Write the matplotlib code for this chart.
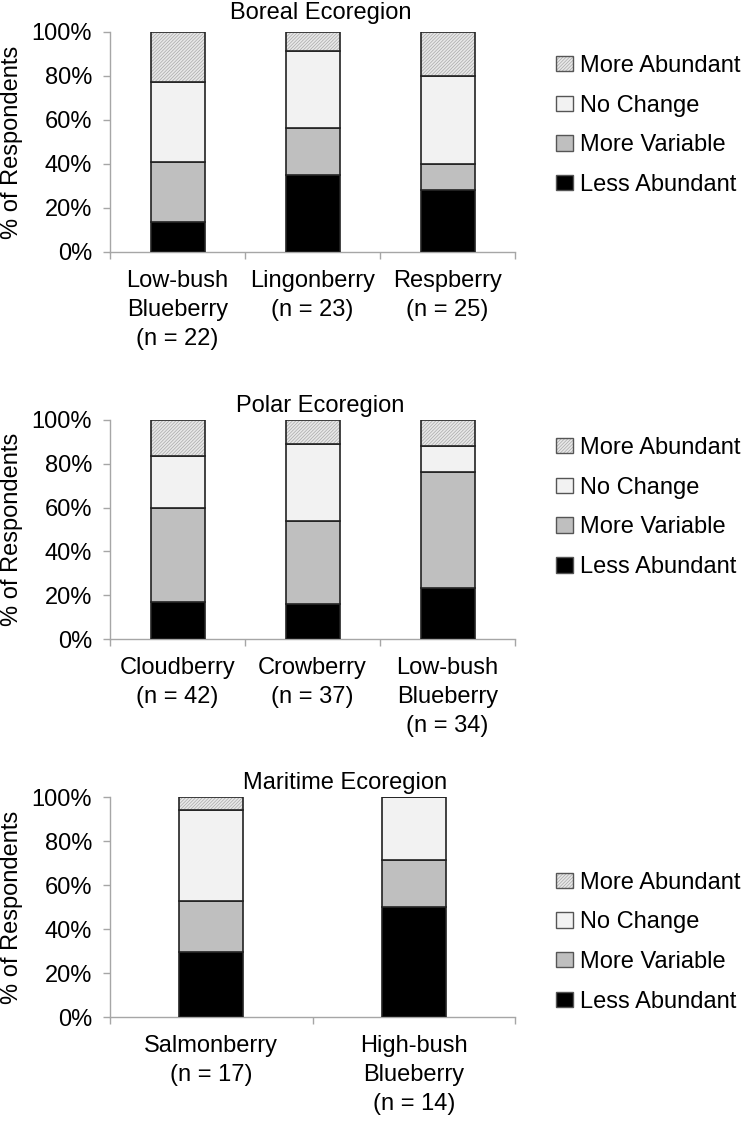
"""
Berry abundance survey, stacked bars by ecoregion
"""

import matplotlib
matplotlib.use('Agg')
import matplotlib.pyplot as plt
from matplotlib.patches import Patch
from matplotlib.ticker import FixedLocator, PercentFormatter
import numpy as np

FS = 17
plt.rcParams['font.family'] = ['Liberation Sans', 'DejaVu Sans']
plt.rcParams['font.size'] = FS
plt.rcParams['hatch.linewidth'] = 0.5

SERIES = ['Less Abundant', 'More Variable', 'No Change', 'More Abundant']
COLORS = ['#000000', '#bfbfbf', '#f2f2f2', '#e8e8e8']
HATCHES = [None, None, None, '//////////']
HATCH_COLOR = '#a8a8a8'

# Boreal
BOREAL_LABELS = ['Low-bush\nBlueberry\n(n = 22)', 'Lingonberry\n(n = 23)', 'Respberry\n(n = 25)']
BOREAL_LESS = [13.6, 34.8, 28.0]
BOREAL_VAR = [27.3, 21.7, 12.0]
BOREAL_NOCHANGE = [36.4, 34.8, 40.0]
BOREAL_MORE = [22.7, 8.7, 20.0]

# Polar
POLAR_LABELS = ['Cloudberry\n(n = 42)', 'Crowberry\n(n = 37)', 'Low-bush\nBlueberry\n(n = 34)']
POLAR_LESS = [16.7, 16.2, 23.5]
POLAR_VAR = [42.9, 37.8, 52.9]
POLAR_NOCHANGE = [23.8, 35.1, 11.8]
POLAR_MORE = [16.7, 10.8, 11.8]

# Maritime
MARITIME_LABELS = ['Salmonberry\n(n = 17)', 'High-bush\nBlueberry\n(n = 14)']
MARITIME_LESS = [29.4, 50.0]
MARITIME_VAR = [23.5, 21.4]
MARITIME_NOCHANGE = [41.2, 28.6]
MARITIME_MORE = [5.9, 0.0]

panels = [
    dict(title='Boreal Ecoregion', labels=BOREAL_LABELS,
         data=[BOREAL_LESS, BOREAL_VAR, BOREAL_NOCHANGE, BOREAL_MORE],
         rect=[110, 32, 405, 220], title_x=0.52, title_pad=9, leg_y=0.575, width=0.4),
    dict(title='Polar Ecoregion', labels=POLAR_LABELS,
         data=[POLAR_LESS, POLAR_VAR, POLAR_NOCHANGE, POLAR_MORE],
         rect=[110, 420, 405, 219], title_x=0.52, title_pad=6, leg_y=0.60, width=0.4),
    dict(title='Maritime Ecoregion', labels=MARITIME_LABELS,
         data=[MARITIME_LESS, MARITIME_VAR, MARITIME_NOCHANGE, MARITIME_MORE],
         rect=[110, 797, 405, 220], title_x=0.58, title_pad=6, leg_y=0.34, width=0.315),
]

W, H = 750, 1126
fig = plt.figure(figsize=(W / 100, H / 100), dpi=100)
axis_gray = '#a6a6a6'

for p in panels:
    x0, y0, w, h = p['rect']
    ax = fig.add_axes([x0 / W, 1 - (y0 + h) / H, w / W, h / H])
    n = len(p['labels'])
    x = np.arange(n)
    bottom = np.zeros(n)
    for vals, color, hatch in zip(p['data'], COLORS, HATCHES):
        vals = np.array(vals)
        if hatch:
            # hatch takes the edge colour, so fill and outline are drawn apart
            ax.bar(x, vals, p['width'], bottom=bottom, color=color, hatch=hatch,
                   edgecolor=HATCH_COLOR, linewidth=0, zorder=3)
            ax.bar(x, vals, p['width'], bottom=bottom, fill=False,
                   edgecolor='#222222', linewidth=1.2, zorder=4)
        else:
            ax.bar(x, vals, p['width'], bottom=bottom, color=color,
                   edgecolor='#222222', linewidth=1.2, zorder=3)
        bottom += vals

    ax.set_xlim(-0.5, n - 0.5)
    ax.set_ylim(0, 100)
    ax.yaxis.set_major_locator(FixedLocator([0, 20, 40, 60, 80, 100]))
    ax.yaxis.set_major_formatter(PercentFormatter(decimals=0))
    ax.set_xticks(x)
    ax.set_xticklabels(p['labels'], linespacing=1.42)
    ax.xaxis.set_minor_locator(FixedLocator(np.arange(n + 1) - 0.5))
    ax.tick_params(axis='x', which='major', length=0, pad=13)
    ax.tick_params(axis='x', which='minor', length=5, color=axis_gray, width=1)
    ax.tick_params(axis='y', length=5, color=axis_gray, width=1, pad=8)
    for s in ['top', 'right']:
        ax.spines[s].set_visible(False)
    for s in ['left', 'bottom']:
        ax.spines[s].set_color(axis_gray)
        ax.spines[s].set_linewidth(1.0)
    ax.set_ylabel('% of Respondents')
    ax.yaxis.set_label_coords(-0.215, 0.5)
    ax.set_title(p['title'], x=p['title_x'], pad=p['title_pad'], fontsize=FS)

    handles = []
    for s, c, hh in zip(SERIES, COLORS, HATCHES):
        if hh:
            handles.append((Patch(facecolor=c, hatch=hh, edgecolor=HATCH_COLOR, linewidth=0),
                            Patch(fill=False, edgecolor='#555555', linewidth=1.0)))
        else:
            handles.append(Patch(facecolor=c, edgecolor='#555555', linewidth=1.0))
    ax.legend(handles=handles[::-1], labels=SERIES[::-1], loc='center left',
              bbox_to_anchor=(1.1, p['leg_y']),
              frameon=False, borderaxespad=0, borderpad=0, handlelength=0.72,
              handleheight=0.62, handletextpad=0.3, labelspacing=0.75, fontsize=FS)

fig.savefig('out.png', dpi=100)
